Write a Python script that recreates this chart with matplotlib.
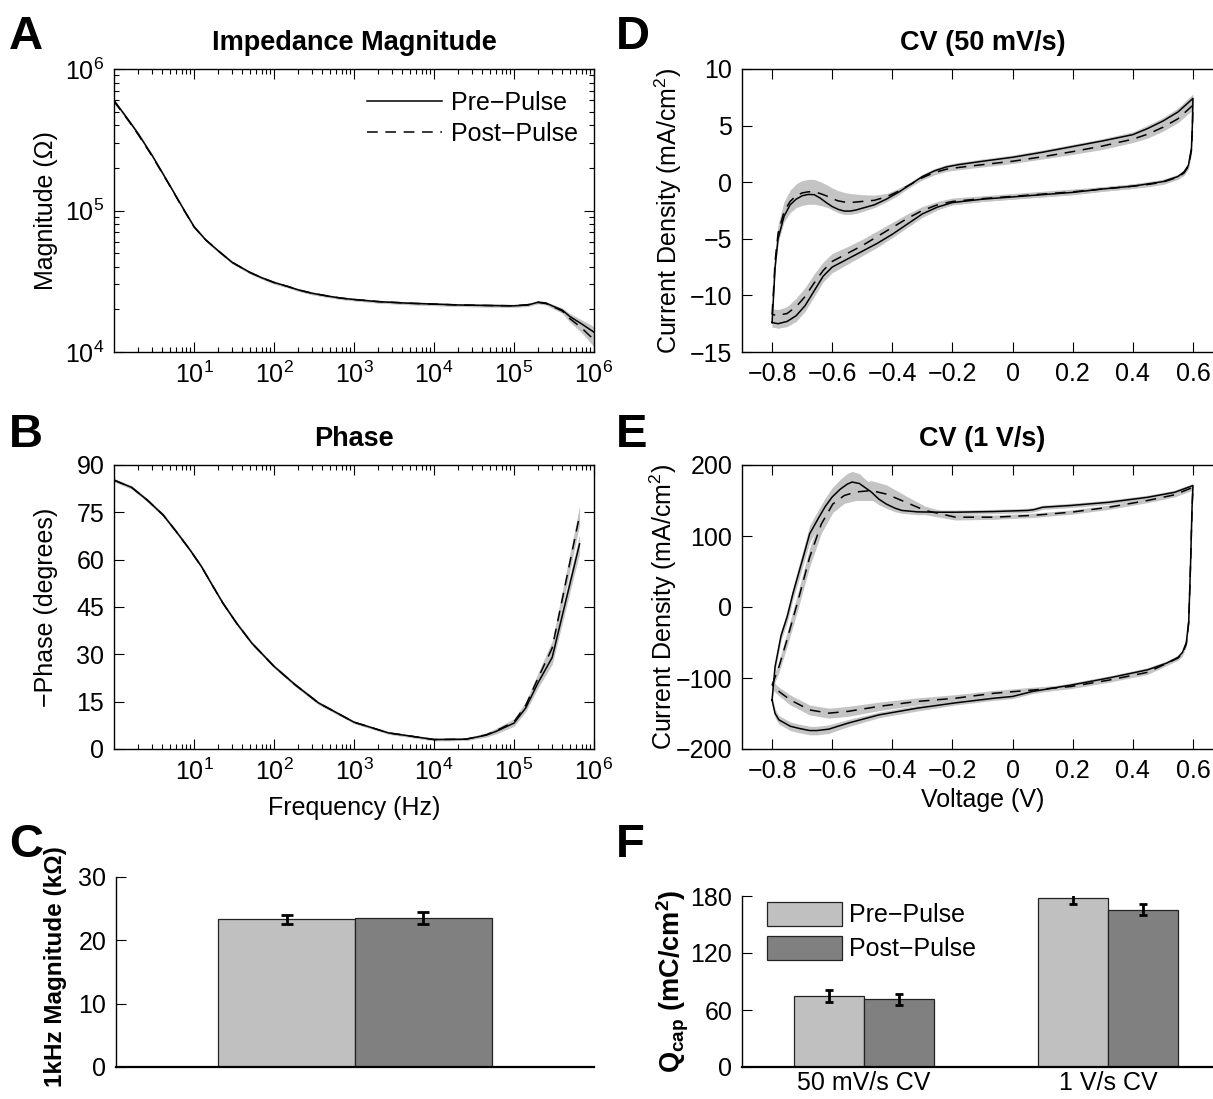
import matplotlib
matplotlib.use("Agg")
import matplotlib.pyplot as plt
import numpy as np

plt.rcParams['font.family'] = ['Liberation Sans', 'DejaVu Sans']
plt.rcParams['mathtext.fontset'] = 'custom'
plt.rcParams['mathtext.rm'] = 'Liberation Sans'
plt.rcParams['mathtext.it'] = 'Liberation Sans:italic'
plt.rcParams['mathtext.bf'] = 'Liberation Sans:bold'
plt.rcParams['font.size'] = 18

# ---- A: impedance magnitude ----
freq_mag = [1, 1.5, 2, 3, 5, 7, 10, 14, 20, 30, 50, 70, 100, 150, 200, 300, 500, 700,
            1e3, 2e3, 5e3, 1e4, 2e4, 5e4, 1e5, 1.5e5, 2e5, 2.5e5, 3e5, 4e5, 5e5, 7e5, 1e6]
mag_pre = [6.0e5, 4.4e5, 3.5e5, 2.45e5, 1.5e5, 1.08e5, 7.7e4, 6.2e4, 5.2e4, 4.3e4, 3.65e4,
           3.35e4, 3.1e4, 2.9e4, 2.75e4, 2.6e4, 2.47e4, 2.4e4,
           2.35e4, 2.27e4, 2.21e4, 2.18e4, 2.15e4, 2.13e4, 2.12e4, 2.15e4, 2.25e4, 2.22e4,
           2.12e4, 1.98e4, 1.78e4, 1.58e4, 1.38e4]
mag_post = [5.9e5, 4.35e5, 3.45e5, 2.42e5, 1.49e5, 1.07e5, 7.65e4, 6.2e4, 5.2e4, 4.3e4, 3.65e4,
            3.35e4, 3.1e4, 2.9e4, 2.75e4, 2.6e4, 2.47e4, 2.4e4,
            2.35e4, 2.27e4, 2.21e4, 2.18e4, 2.15e4, 2.13e4, 2.12e4, 2.16e4, 2.24e4, 2.2e4,
            2.1e4, 1.95e4, 1.72e4, 1.48e4, 1.22e4]
mag_sem = [1.2e4, 9e3, 7e3, 5e3, 3e3, 2.2e3, 1.6e3, 1.3e3, 1.1e3, 9e2, 8e2,
           7e2, 7e2, 6e2, 6e2, 6e2, 5e2, 5e2,
           5e2, 5e2, 5e2, 5e2, 5e2, 5e2, 5e2, 5e2, 5e2, 5e2,
           6e2, 7e2, 9e2, 1.1e3, 1.3e3]

# ---- B: phase ----
freq_ph = [1, 1.66, 2.6, 4.1, 6, 8.9, 12.4, 16.4, 23, 34, 53, 100, 183, 360, 1e3, 2.7e3,
           1e4, 2.5e4, 4.5e4, 6e4, 1e5, 1.4e5, 2e5, 3e5, 6.6e5]
ph_pre = [85.2, 82.9, 78.9, 74.2, 68.9, 63.1, 57.8, 52.5, 46.2, 39.9, 33.5, 26.2, 20.4, 14.6,
          8.5, 5.1, 3.0, 3.1, 4.4, 5.6, 8.2, 13.0, 21.0, 29.0, 65.0]
ph_post = [85.2, 82.9, 78.9, 74.2, 68.9, 63.1, 57.8, 52.5, 46.2, 39.9, 33.5, 26.2, 20.4, 14.6,
           8.5, 5.1, 3.0, 3.1, 4.5, 5.8, 8.6, 13.8, 22.5, 32.0, 74.0]
ph_sem = [0.5, 0.5, 0.5, 0.5, 0.5, 0.5, 0.5, 0.5, 0.5, 0.5, 0.5, 0.5, 0.5, 0.5,
          0.4, 0.4, 0.4, 0.4, 0.6, 0.8, 1.0, 1.2, 1.6, 2.2, 3.0]

# ---- C: 1 kHz magnitude (kOhm) ----
mag1k = [23.35, 23.5]
mag1k_err = [0.7, 0.9]

# ---- D: CV 50 mV/s ----
v_d_fwd = [-0.800, -0.795, -0.790, -0.780, -0.760, -0.740, -0.720, -0.700, -0.680, -0.660,
           -0.640, -0.620, -0.600, -0.580, -0.560, -0.540, -0.520, -0.500, -0.460, -0.420,
           -0.380, -0.340, -0.300, -0.260, -0.220, -0.180, -0.100, 0.000, 0.100, 0.200,
           0.300, 0.400, 0.450, 0.500, 0.550, 0.600]
i_d_fwd_pre = [-12.4, -10.0, -7.5, -5.0, -3.0, -2.0, -1.5, -1.2, -1.08, -1.1,
               -1.4, -1.8, -2.15, -2.4, -2.55, -2.55, -2.45, -2.3, -2.0, -1.5,
               -0.9, -0.2, 0.5, 1.0, 1.35, 1.55, 1.85, 2.2, 2.65, 3.15,
               3.65, 4.2, 4.75, 5.4, 6.2, 7.4]
i_d_fwd_post = [-11.7, -9.5, -7.0, -4.5, -2.6, -1.7, -1.2, -0.95, -0.85, -0.85,
                -1.0, -1.2, -1.45, -1.65, -1.75, -1.8, -1.75, -1.7, -1.6, -1.3,
                -0.8, -0.2, 0.4, 0.85, 1.15, 1.3, 1.55, 1.85, 2.25, 2.7,
                3.2, 3.8, 4.25, 4.85, 5.6, 6.8]
sem_d_fwd_pre = [0.4, 0.4, 0.4, 0.3, 0.3, 0.3, 0.3, 0.3, 0.3, 0.3,
                 0.3, 0.3, 0.3, 0.3, 0.3, 0.3, 0.3, 0.3, 0.25, 0.25,
                 0.25, 0.2, 0.2, 0.2, 0.2, 0.2, 0.2, 0.2, 0.2, 0.2,
                 0.2, 0.25, 0.3, 0.3, 0.35, 0.4]
sem_d_fwd_post = [0.5, 0.6, 0.7, 0.8, 0.9, 1.0, 1.05, 1.1, 1.1, 1.1,
                  1.05, 1.0, 0.95, 0.9, 0.85, 0.8, 0.7, 0.6, 0.45, 0.3,
                  0.25, 0.2, 0.2, 0.2, 0.2, 0.2, 0.2, 0.2, 0.2, 0.25,
                  0.3, 0.3, 0.35, 0.35, 0.35, 0.4]
v_d_rev = [0.600, 0.598, 0.595, 0.585, 0.570, 0.550, 0.500, 0.450, 0.400, 0.300,
           0.200, 0.100, 0.000, -0.100, -0.200, -0.250, -0.300, -0.350, -0.400, -0.450,
           -0.500, -0.550, -0.600, -0.630, -0.660, -0.690, -0.720, -0.750, -0.780, -0.800]
i_d_rev_pre = [7.4, 5.0, 3.0, 1.5, 0.9, 0.5, 0.05, -0.15, -0.35, -0.6,
               -0.9, -1.1, -1.3, -1.5, -1.8, -2.2, -2.8, -3.7, -4.6, -5.4,
               -6.1, -6.8, -7.5, -8.3, -9.6, -10.9, -11.8, -12.3, -12.5, -12.4]
i_d_rev_post = [6.8, 4.5, 2.8, 1.4, 0.8, 0.45, 0.0, -0.2, -0.35, -0.6,
                -0.85, -1.05, -1.25, -1.45, -1.7, -2.0, -2.5, -3.2, -4.0, -4.8,
                -5.6, -6.3, -7.0, -7.8, -8.9, -10.1, -11.0, -11.6, -11.75, -11.7]
sem_d_rev_pre = [0.4, 0.3, 0.3, 0.25, 0.2, 0.2, 0.2, 0.2, 0.2, 0.2,
                 0.2, 0.2, 0.2, 0.2, 0.2, 0.25, 0.3, 0.3, 0.3, 0.35,
                 0.4, 0.45, 0.5, 0.5, 0.5, 0.5, 0.5, 0.45, 0.4, 0.4]
sem_d_rev_post = [0.4, 0.3, 0.3, 0.25, 0.2, 0.2, 0.2, 0.2, 0.2, 0.2,
                  0.25, 0.25, 0.25, 0.25, 0.3, 0.3, 0.35, 0.4, 0.45, 0.5,
                  0.55, 0.6, 0.7, 0.75, 0.8, 0.8, 0.75, 0.6, 0.5, 0.5]

# ---- E: CV 1 V/s ----
v_e_fwd_pre = [-0.800, -0.790, -0.770, -0.750, -0.730, -0.710, -0.690, -0.675, -0.650, -0.624,
               -0.600, -0.573, -0.550, -0.534, -0.510, -0.490, -0.470, -0.445, -0.420, -0.390,
               -0.368, -0.317, -0.250, -0.190, -0.060, 0.050, 0.070, 0.100, 0.194, 0.320,
               0.449, 0.539, 0.600]
i_e_fwd_pre = [-131, -84, -40, -14, 20, 50, 80, 103, 122, 141,
               155, 166, 173, 176, 174, 168, 162, 152, 145, 139,
               136, 134, 133.5, 133.5, 134.5, 136, 137, 140.5, 143, 147.5,
               154.5, 161.5, 171]
sem_e_fwd_pre = [5, 6, 7, 8, 9, 10, 11, 12, 12, 12,
                 13, 14, 15, 15, 14, 12, 10, 8, 6, 5,
                 4, 4, 3, 3, 3, 3, 3, 3, 3, 3,
                 3, 3, 3]
v_e_fwd_post = [-0.800, -0.777, -0.751, -0.713, -0.675, -0.636, -0.598, -0.560, -0.521, -0.470,
                -0.419, -0.355, -0.291, -0.190, -0.062, 0.066, 0.194, 0.320, 0.449, 0.539, 0.600]
i_e_fwd_post = [-110, -84, -47, 10, 70, 117, 145, 157, 162, 164,
                159, 147.5, 136, 126.5, 126.5, 129, 133.5, 140.5, 150, 158, 168.5]
sem_e_fwd_post = [6, 8, 10, 12, 13, 13, 12, 11, 12, 14,
                  13, 9, 6, 4, 3, 3, 3, 3, 3, 3, 4]
v_e_rev_pre = [0.600, 0.597, 0.592, 0.586, 0.578, 0.565, 0.550, 0.513, 0.449, 0.320,
               0.194, 0.066, 0.000, -0.062, -0.190, -0.317, -0.445, -0.547, -0.611, -0.650,
               -0.675, -0.710, -0.739, -0.777, -0.790, -0.800]
i_e_rev_pre = [171, 140, 60, -20, -50, -64, -71, -79, -88.5, -100,
               -110, -119, -126, -128.5, -135, -142.5, -152, -163.5, -172, -174,
               -174, -171, -168, -159, -150, -131]
sem_e_rev_pre = [3, 3, 3, 3, 3, 3, 3, 3, 3, 3,
                 3, 3, 3, 3, 3, 4, 4, 5, 6, 6,
                 6, 6, 6, 6, 6, 6]
v_e_rev_post = [0.600, 0.597, 0.592, 0.586, 0.578, 0.565, 0.550, 0.449, 0.320, 0.194,
                0.066, -0.062, -0.190, -0.317, -0.445, -0.547, -0.611, -0.675, -0.739, -0.777, -0.800]
i_e_rev_post = [168.5, 138, 58, -22, -52, -66, -72, -92, -103, -112,
                -117, -121.5, -128.5, -133, -140, -147, -149.5, -145, -131, -119, -110]
sem_e_rev_post = [3, 3, 3, 3, 3, 3, 3, 3, 3, 3,
                  4, 4, 5, 5, 6, 7, 7, 7, 7, 6, 6]

# ---- F: charge storage capacity ----
cv_groups = ['50 mV/s CV', '1 V/s CV']
qcap_pre = [74.8, 177.5]
qcap_post = [71.3, 165.6]
qcap_pre_err = [6.0, 6.0]
qcap_post_err = [6.0, 6.0]

vt_labels = ['\u22120.8', '\u22120.6', '\u22120.4', '\u22120.2', '0', '0.2', '0.4', '0.6']
vt_values = [-0.8, -0.6, -0.4, -0.2, 0.0, 0.2, 0.4, 0.6]

BAND = '#c4c4c4'
PRE_C = '#c0c0c0'
POST_C = '#808080'
W, H = 1213, 1099
DASH = (0, (7, 5))


def rect(l, t, r, b):
    return [l / W, 1 - b / H, (r - l) / W, (b - t) / H]


def boxed(ax):
    ax.tick_params(which='both', direction='in', top=True, right=True, labelsize=18)
    ax.tick_params(which='major', length=7, width=0.8, pad=7)
    ax.tick_params(which='minor', length=3.5, width=0.8)
    for s in ax.spines.values():
        s.set_linewidth(1.0)


def band(ax, x, y, s):
    y = np.array(y)
    s = np.array(s)
    ax.fill_between(x, y - s, y + s, color=BAND, lw=0, zorder=1)


fig = plt.figure(figsize=(W / 100, H / 100), dpi=100)

# A
axA = fig.add_axes(rect(114, 69, 594, 352))
band(axA, freq_mag, mag_pre, mag_sem)
band(axA, freq_mag, mag_post, mag_sem)
axA.plot(freq_mag, mag_pre, 'k-', lw=1.1, label='Pre\u2212Pulse', zorder=3)
axA.plot(freq_mag, mag_post, 'k', ls=DASH, lw=1.1, label='Post\u2212Pulse', zorder=3)
axA.set_xscale('log')
axA.set_yscale('log')
axA.set_xlim(1, 1e6)
axA.set_ylim(1e4, 1e6)
axA.set_xticks([1e1, 1e2, 1e3, 1e4, 1e5, 1e6])
boxed(axA)
axA.set_ylabel('Magnitude (\u03a9)', fontsize=18)
axA.yaxis.set_label_coords(-0.117, 0.5)
axA.set_title('Impedance Magnitude', fontsize=19.5, fontweight='bold', pad=14)
axA.legend(loc='upper right', bbox_to_anchor=(0.993, 0.968), frameon=False, fontsize=18,
           handlelength=3.0, handletextpad=0.35, borderpad=0, labelspacing=0.3)

# B
axB = fig.add_axes(rect(114, 465, 594, 749))
band(axB, freq_ph, ph_pre, ph_sem)
band(axB, freq_ph, ph_post, ph_sem)
axB.plot(freq_ph, ph_pre, 'k-', lw=1.1, zorder=3)
axB.plot(freq_ph, ph_post, 'k', ls=DASH, lw=1.1, zorder=3)
axB.set_xscale('log')
axB.set_xlim(1, 1e6)
axB.set_ylim(0, 90)
axB.set_xticks([1e1, 1e2, 1e3, 1e4, 1e5, 1e6])
axB.set_yticks([0, 15, 30, 45, 60, 75, 90])
boxed(axB)
axB.set_ylabel('\u2212Phase (degrees)', fontsize=18)
axB.yaxis.set_label_coords(-0.117, 0.5)
axB.set_xlabel('Frequency (Hz)', fontsize=18, labelpad=8)
axB.set_title('Phase', fontsize=19.5, fontweight='bold', pad=14)

# C
axC = fig.add_axes(rect(116, 877, 594, 1067))
axC.bar([1, 2], mag1k, width=1.0, color=[PRE_C, POST_C], edgecolor='#222222', lw=0.9, zorder=2)
axC.errorbar([1, 2], mag1k, yerr=mag1k_err, fmt='none', ecolor='k', elinewidth=2,
             capsize=4, capthick=2, zorder=3)
axC.set_xlim(-0.25, 3.25)
axC.set_ylim(0, 30)
axC.set_yticks([0, 10, 20, 30])
axC.set_xticks([])
axC.spines['top'].set_visible(False)
axC.spines['right'].set_visible(False)
axC.spines['left'].set_linewidth(1.0)
axC.spines['bottom'].set_linewidth(1.6)
axC.tick_params(axis='y', direction='in', length=7, width=0.8, labelsize=18, pad=7)
axC.set_ylabel('1kHz Magnitude (k\u03a9)', fontsize=17.5, fontweight='bold')
axC.yaxis.set_label_coords(-0.1025, 0.53)

# D
axD = fig.add_axes(rect(742, 69, 1223, 352))
band(axD, v_d_fwd, i_d_fwd_pre, sem_d_fwd_pre)
band(axD, v_d_rev, i_d_rev_pre, sem_d_rev_pre)
band(axD, v_d_fwd, i_d_fwd_post, sem_d_fwd_post)
band(axD, v_d_rev, i_d_rev_post, sem_d_rev_post)
axD.plot(v_d_fwd + v_d_rev, i_d_fwd_pre + i_d_rev_pre, 'k-', lw=1.1, zorder=3)
axD.plot(v_d_fwd + v_d_rev, i_d_fwd_post + i_d_rev_post, 'k', ls=DASH, lw=1.1, zorder=3)
axD.set_xlim(-0.9, 0.7)
axD.set_ylim(-15, 10)
axD.set_xticks(vt_values)
axD.set_xticklabels(vt_labels)
axD.set_yticks([-15, -10, -5, 0, 5, 10])
axD.set_yticklabels(['\u221215', '\u221210', '\u22125', '0', '5', '10'])
boxed(axD)
axD.set_ylabel('Current Density (mA/cm$^2$)', fontsize=18)
axD.yaxis.set_label_coords(-0.12, 0.5)
axD.set_title('CV (50 mV/s)', fontsize=19.5, fontweight='bold', pad=14)

# E
axE = fig.add_axes(rect(742, 465, 1223, 749))
band(axE, v_e_fwd_pre, i_e_fwd_pre, sem_e_fwd_pre)
band(axE, v_e_rev_pre, i_e_rev_pre, sem_e_rev_pre)
band(axE, v_e_fwd_post, i_e_fwd_post, sem_e_fwd_post)
band(axE, v_e_rev_post, i_e_rev_post, sem_e_rev_post)
axE.plot(v_e_fwd_pre + v_e_rev_pre, i_e_fwd_pre + i_e_rev_pre, 'k-', lw=1.1, zorder=3)
axE.plot(v_e_fwd_post + v_e_rev_post, i_e_fwd_post + i_e_rev_post, 'k', ls=DASH, lw=1.1, zorder=3)
axE.set_xlim(-0.9, 0.7)
axE.set_ylim(-200, 200)
axE.set_xticks(vt_values)
axE.set_xticklabels(vt_labels)
axE.set_yticks([-200, -100, 0, 100, 200])
axE.set_yticklabels(['\u2212200', '\u2212100', '0', '100', '200'])
boxed(axE)
axE.set_ylabel('Current Density (mA/cm$^2$)', fontsize=18)
axE.yaxis.set_label_coords(-0.132, 0.5)
axE.set_xlabel('Voltage (V)', fontsize=18, labelpad=4)
axE.set_title('CV (1 V/s)', fontsize=19.5, fontweight='bold', pad=14)

# F
axF = fig.add_axes(rect(742, 896, 1230, 1067))
xg = np.arange(1, len(cv_groups) + 1)
bw = 0.286
axF.bar(xg - bw / 2, qcap_pre, width=bw, color=PRE_C, edgecolor='#222222', lw=0.9,
        label='Pre\u2212Pulse', zorder=2)
axF.bar(xg + bw / 2, qcap_post, width=bw, color=POST_C, edgecolor='#222222', lw=0.9,
        label='Post\u2212Pulse', zorder=2)
axF.errorbar(xg - bw / 2, qcap_pre, yerr=qcap_pre_err, fmt='none', ecolor='k',
             elinewidth=2, capsize=3, capthick=2, zorder=3)
axF.errorbar(xg + bw / 2, qcap_post, yerr=qcap_post_err, fmt='none', ecolor='k',
             elinewidth=2, capsize=3, capthick=2, zorder=3)
axF.set_xlim(0.5, 2.5)
axF.set_ylim(0, 180)
axF.set_yticks([0, 60, 120, 180])
axF.set_xticks(xg)
axF.set_xticklabels(cv_groups)
axF.spines['top'].set_visible(False)
axF.spines['right'].set_visible(False)
axF.spines['left'].set_linewidth(1.0)
axF.spines['bottom'].set_linewidth(1.6)
axF.tick_params(axis='y', direction='in', length=7, width=0.8, labelsize=18, pad=7)
axF.tick_params(axis='x', length=0, labelsize=18, pad=3)
axF.set_ylabel(r'$\mathbf{Q_{cap}}$ (mC/cm$^{\mathbf{2}}$)', fontsize=19.5, fontweight='bold')
axF.yaxis.set_label_coords(-0.105, 0.5)
axF.legend(loc='upper left', bbox_to_anchor=(0.025, 1.04), frameon=False, fontsize=18,
           handlelength=3.0, handleheight=1.1, handletextpad=0.3, borderpad=0,
           labelspacing=0.35)

# panel letters
for letter, x, y in [('A', 9, 15), ('B', 9, 413), ('C', 9, 823),
                     ('D', 616, 15), ('E', 616, 413), ('F', 616, 823)]:
    fig.text(x / W, 1 - y / H, letter, fontsize=34, fontweight='bold', va='top', ha='left')

fig.savefig('out.png', dpi=100)
